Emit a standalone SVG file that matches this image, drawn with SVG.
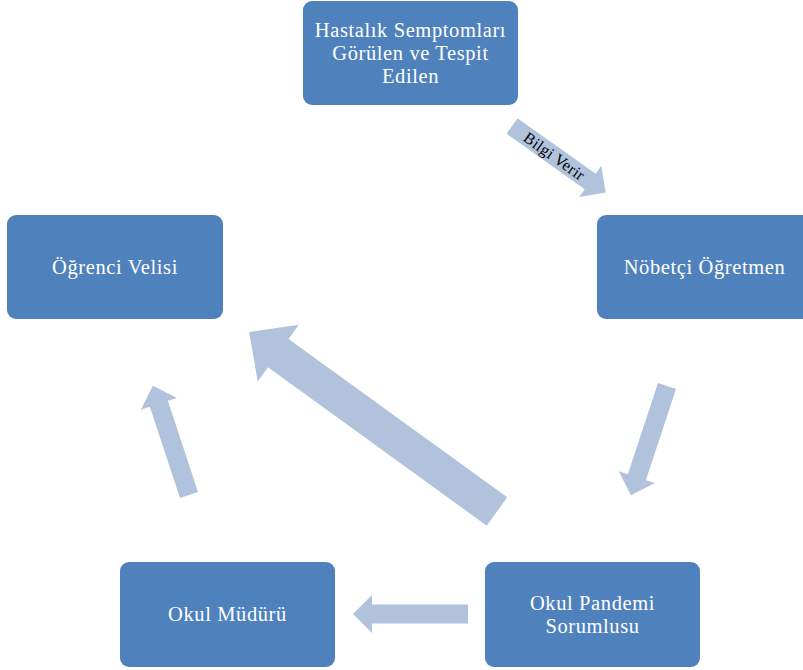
<svg xmlns="http://www.w3.org/2000/svg" width="803" height="670" viewBox="0 0 803 670">
<defs>
<style>
.box{fill:#4f81bd;}
.lbl{font-family:"Liberation Serif","Times New Roman",serif;font-size:20.5px;letter-spacing:0.6px;fill:#ffffff;text-anchor:middle;}
.arr{fill:#b1c2dd;}
.alb{font-family:"Liberation Serif","Times New Roman",serif;font-size:16px;letter-spacing:0.3px;fill:#000000;text-anchor:middle;}
</style>
<path id="a115" d="M0,-9.5 L96,-9.5 L96,-19 L115,0 L96,19 L96,9.5 L0,9.5 Z"/>
</defs>
<rect width="803" height="670" fill="#ffffff"/>
<g id="connectors">
<g transform="translate(512,126) rotate(35.4)">
<use href="#a115" class="arr"/>
<text class="alb" x="52" y="5.5">Bilgi Verir</text>
</g>
<use href="#a115" class="arr" transform="translate(667,386) rotate(108.3)"/>
<use href="#a115" class="arr" transform="translate(468,614) rotate(180)"/>
<use href="#a115" class="arr" transform="translate(189,495) rotate(251.7)"/>
<path class="arr" transform="translate(497,511.5) rotate(215.9)" d="M0,-17.5 L270,-17.5 L270,-35 L306,0 L270,35 L270,17.5 L0,17.5 Z"/>
</g>
<g id="node-hastalik">
<rect class="box" x="303" y="1" width="215" height="104" rx="9"/>
<text class="lbl" x="410.5" y="37">Hastalık Semptomları</text>
<text class="lbl" x="410.5" y="60">Görülen ve Tespit</text>
<text class="lbl" x="410.5" y="83">Edilen</text>
</g>
<g id="node-nobetci">
<rect class="box" x="597" y="215" width="215" height="104" rx="9"/>
<text class="lbl" x="704.5" y="274">Nöbetçi Öğretmen</text>
</g>
<g id="node-veli">
<rect class="box" x="7" y="215" width="216" height="104" rx="9"/>
<text class="lbl" x="115" y="274">Öğrenci Velisi</text>
</g>
<g id="node-mudur">
<rect class="box" x="120" y="562" width="215" height="105" rx="9"/>
<text class="lbl" x="227.5" y="621">Okul Müdürü</text>
</g>
<g id="node-pandemi">
<rect class="box" x="485" y="562" width="215" height="105" rx="9"/>
<text class="lbl" x="592.5" y="609.5">Okul Pandemi</text>
<text class="lbl" x="592.5" y="632.5">Sorumlusu</text>
</g>
</svg>
